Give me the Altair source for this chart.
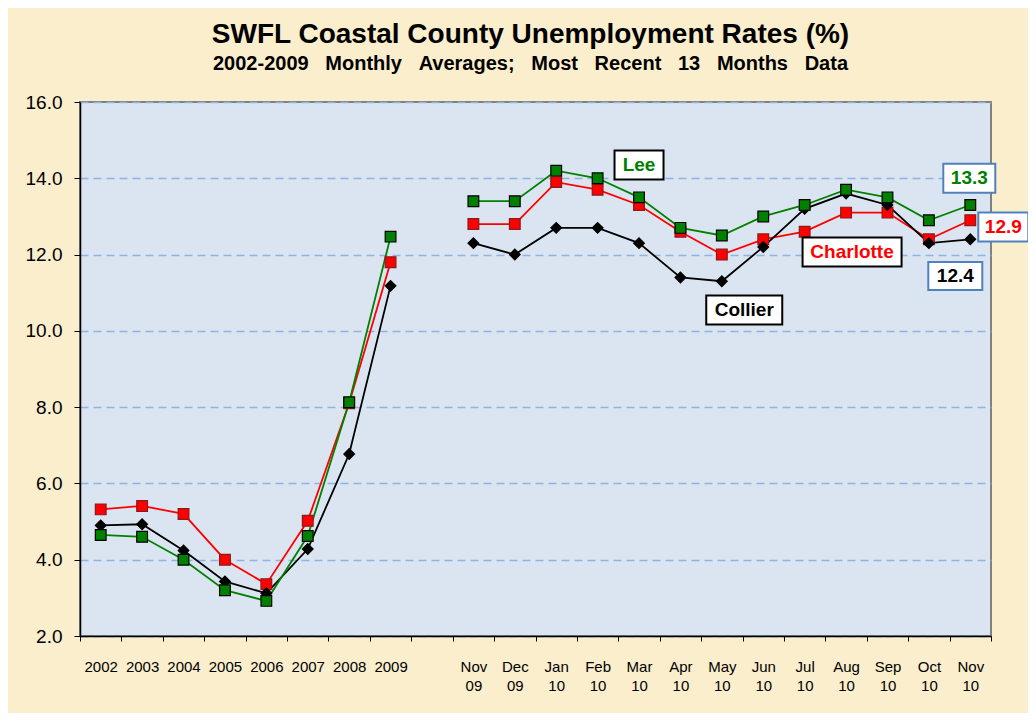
import altair as alt
import pandas as pd

# ---------------- data ----------------
years = ["2002", "2003", "2004", "2005", "2006", "2007", "2008", "2009"]
gap = [" "]
months = ["Nov 09", "Dec 09", "Jan 10", "Feb 10", "Mar 10", "Apr 10", "May 10",
          "Jun 10", "Jul 10", "Aug 10", "Sep 10", "Oct 10", "Nov 10"]
categories = years + gap + months

series_names = ["Charlotte", "Collier", "Lee"]

charlotte_annual = [5.32, 5.41, 5.20, 4.00, 3.36, 5.02, 8.10, 11.80]
collier_annual = [4.90, 4.93, 4.24, 3.43, 3.12, 4.28, 6.77, 11.18]
lee_annual = [4.65, 4.60, 4.00, 3.20, 2.92, 4.62, 8.13, 12.47]

charlotte_monthly = [12.8, 12.8, 13.9, 13.7, 13.3, 12.6, 12.0, 12.4, 12.6, 13.1, 13.1, 12.4, 12.9]
collier_monthly = [12.3, 12.0, 12.7, 12.7, 12.3, 11.4, 11.3, 12.2, 13.2, 13.6, 13.3, 12.3, 12.4]
lee_monthly = [13.4, 13.4, 14.2, 14.0, 13.5, 12.7, 12.5, 13.0, 13.3, 13.7, 13.5, 12.9, 13.3]

y_ticks = [2, 4, 6, 8, 10, 12, 14, 16]

title_text = "SWFL Coastal County Unemployment Rates (%)"
subtitle_words = ["2002-2009", "Monthly", "Averages;", "Most", "Recent", "13", "Months", "Data"]

# annotation labels
ann_text = ["Lee", "Charlotte", "Collier", "13.3", "12.9", "12.4"]
ann_cat = ["Mar 10", "Aug 10", "Jun 10", "Nov 10", "Nov 10", "Nov 10"]
ann_y = [14.35, 12.07, 10.55, 14.0, 12.72, 11.44]
ann_color = ["#008000", "#ff0000", "#000000", "#008000", "#ff0000", "#000000"]
ann_border = ["#000000", "#000000", "#000000", "#4f81bd", "#4f81bd", "#4f81bd"]

# ---------------- tables ----------------
rows = []
annual = {"Charlotte": charlotte_annual, "Collier": collier_annual, "Lee": lee_annual}
monthly = {"Charlotte": charlotte_monthly, "Collier": collier_monthly, "Lee": lee_monthly}
for s in series_names:
    for c, v in zip(years, annual[s]):
        rows.append({"cat": c, "value": v, "series": s, "segment": s + "-annual"})
    for c, v in zip(months, monthly[s]):
        rows.append({"cat": c, "value": v, "series": s, "segment": s + "-monthly"})
df = pd.DataFrame(rows)

ann_df = pd.DataFrame({"text": ann_text, "cat": ann_cat, "y": ann_y,
                       "tcolor": ann_color, "bcolor": ann_border})

# ---------------- encodings ----------------
FONT = "Liberation Sans"

x_enc = alt.X(
    "cat:N",
    sort=categories,
    scale=alt.Scale(type="band", domain=categories, paddingInner=0, paddingOuter=0),
    axis=alt.Axis(
        title=None, labelAngle=0, tickBand="extent",
        labelExpr="split(datum.label, ' ')",
        labelFont=FONT, labelFontSize=15, labelColor="black",
        labelLineHeight=19, labelPadding=18,
        domainColor="black", domainWidth=1.5, tickColor="black", tickSize=5,
        grid=False,
    ),
)
y_enc = alt.Y(
    "value:Q",
    scale=alt.Scale(domain=[2, 16], nice=False, zero=False),
    axis=alt.Axis(
        title=None, values=y_ticks, format=".1f",
        labelFont=FONT, labelFontSize=19, labelColor="black", labelPadding=12,
        domainColor="black", domainWidth=1.5, tickColor="black", tickSize=6,
        grid=True, gridColor="#8db4e2", gridDash=[8, 5], gridWidth=1.5,
    ),
)

line_colors = alt.Scale(domain=series_names, range=["#ff0000", "#000000", "#008000"])
fill_colors = alt.Scale(domain=series_names, range=["#ff0000", "#000000", "#008000"])
stroke_colors = alt.Scale(domain=series_names, range=["#8b1a1a", "#000000", "#000000"])
shapes = alt.Scale(domain=series_names, range=["square", "diamond", "square"])

base = alt.Chart(df)

lines = base.mark_line(strokeWidth=1.8).encode(
    x=x_enc, y=y_enc,
    color=alt.Color("series:N", scale=line_colors, legend=None),
    detail="segment:N",
)

points = base.mark_point(filled=True, size=115, strokeWidth=1.2, opacity=1).encode(
    x=x_enc, y=y_enc,
    fill=alt.Fill("series:N", scale=fill_colors, legend=None),
    stroke=alt.Stroke("series:N", scale=stroke_colors, legend=None),
    shape=alt.Shape("series:N", scale=shapes, legend=None),
)

# annotation box geometry (pixel offsets / sizes)
box_style = {
    "Lee": (0, 49, 29),
    "Charlotte": (6, 99, 29),
    "Collier": (-19, 76, 29),
    "13.3": (-1, 52, 29),
    "12.9": (33, 50, 29),
    "12.4": (-15, 54, 28),
}

ann_layers = []
ann_base = alt.Chart(ann_df)
for t, bc, tc in zip(ann_text, ann_border, ann_color):
    dx, w, h = box_style[t]
    hw, hh = w / 2, h / 2
    path = f"M{-hw},{-hh}L{hw},{-hh}L{hw},{hh}L{-hw},{hh}Z"
    box = ann_base.transform_filter(alt.datum.text == t).mark_point(
        shape=path, size=4, filled=True, fill="white", stroke=bc,
        strokeWidth=2, opacity=1, xOffset=dx,
    ).encode(
        x=alt.X("cat:N", sort=categories), y=alt.Y("y:Q"),
    )
    txt = ann_base.transform_filter(alt.datum.text == t).mark_text(
        font=FONT, fontSize=19, fontWeight="bold", align="center",
        baseline="middle", xOffset=dx, color=tc,
    ).encode(
        x=alt.X("cat:N", sort=categories), y=alt.Y("y:Q"), text="text:N",
    )
    ann_layers += [box, txt]

subtitle = (" \u00a0\u00a0").join(subtitle_words)

chart = alt.layer(lines, points, *ann_layers).properties(
    width=911,
    height=534,
    autosize=alt.AutoSizeParams(type="none"),
    padding={"left": 72, "top": 94, "right": 37, "bottom": 77},
    background="#faeecd",
    title=alt.TitleParams(
        text=title_text,
        subtitle=subtitle,
        font=FONT, fontSize=28, fontWeight="bold", color="black",
        subtitleFont=FONT, subtitleFontSize=20, subtitleFontWeight="bold",
        subtitleColor="black", subtitlePadding=5,
        anchor="middle", offset=19, dx=-5,
    ),
).configure_view(
    fill="#dbe5f1", stroke="#808080", strokeWidth=2,
)

chart.save("out.html", embed_options={"renderer": "svg", "actions": False})
